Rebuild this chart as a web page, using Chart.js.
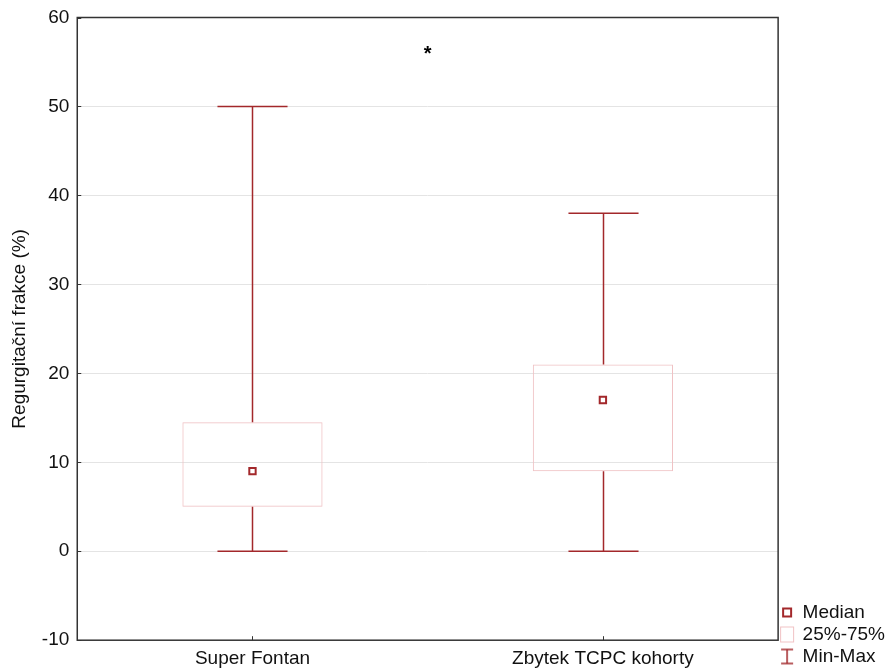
<!DOCTYPE html>
<html>
<head>
<meta charset="utf-8">
<script src="https://cdn.jsdelivr.net/npm/chart.js@4"></script>
<style>
  html, body { margin: 0; padding: 0; background: #fff; }
  #wrap { width: 886px; height: 672px; }
</style>
</head>
<body>
<div id="wrap"><canvas id="boxplot"></canvas></div>
<script>
// data
const groups = ["Super Fontan", "Zbytek TCPC kohorty"];
const minVals = [0, 0];
const q1Vals = [5, 9];
const medianVals = [9, 17];
const q3Vals = [14.5, 21];
const maxVals = [50, 38];
const starLabel = "*";
const starAt = [0.5, 56]; // between groups, y value

const darkRed = "#a3282b";
const pink = "#f0c2c4";
const fontFam = "'Liberation Sans', Arial, sans-serif";

// little canvases for the legend symbols
function symbol(kind) {
  const c = document.createElement("canvas");
  c.width = 16; c.height = 18;
  const g = c.getContext("2d");
  if (kind === "median") {
    g.fillStyle = "#fff";
    g.strokeStyle = darkRed;
    g.lineWidth = 2;
    g.fillRect(4, 5, 8, 8);
    g.strokeRect(4, 5, 8, 8);
  } else if (kind === "box") {
    g.strokeStyle = pink;
    g.lineWidth = 1;
    g.strokeRect(1.5, 1.5, 13, 15);
  } else {
    g.strokeStyle = darkRed;
    g.lineWidth = 1.5;
    g.beginPath();
    g.moveTo(2, 2); g.lineTo(14, 2);
    g.moveTo(8, 2); g.lineTo(8, 16);
    g.moveTo(2, 16); g.lineTo(14, 16);
    g.stroke();
  }
  return c;
}

// whiskers, frame, inner ticks and the star
const boxExtras = {
  id: "boxExtras",
  afterDatasetsDraw(chart) {
    const ctx = chart.ctx;
    const x = chart.scales.x, y = chart.scales.y;
    const bars = chart.getDatasetMeta(0).data;
    ctx.save();
    ctx.strokeStyle = darkRed;
    ctx.lineWidth = 1.5;
    groups.forEach((g, i) => {
      const cx = Math.round(x.getPixelForValue(i)) + 0.5;
      const half = bars[i].width / 4;
      const yMin = y.getPixelForValue(minVals[i]);
      const yMax = y.getPixelForValue(maxVals[i]);
      ctx.beginPath();
      ctx.moveTo(cx, yMax); ctx.lineTo(cx, y.getPixelForValue(q3Vals[i]));
      ctx.moveTo(cx, y.getPixelForValue(q1Vals[i])); ctx.lineTo(cx, yMin);
      ctx.moveTo(cx - half, yMax); ctx.lineTo(cx + half, yMax);
      ctx.moveTo(cx - half, yMin); ctx.lineTo(cx + half, yMin);
      ctx.stroke();
    });
    // frame
    const a = chart.chartArea;
    ctx.strokeStyle = "#333";
    ctx.lineWidth = 1.5;
    ctx.strokeRect(a.left, a.top, a.right - a.left, a.bottom - a.top);
    ctx.lineWidth = 1;
    ctx.beginPath();
    y.ticks.forEach(t => {
      const py = Math.round(y.getPixelForValue(t.value)) + 0.5;
      ctx.moveTo(a.left, py); ctx.lineTo(a.left + 4, py);
    });
    groups.forEach((g, i) => {
      const px = Math.round(x.getPixelForValue(i)) + 0.5;
      ctx.moveTo(px, a.bottom); ctx.lineTo(px, a.bottom - 4);
    });
    ctx.stroke();
    // star
    ctx.fillStyle = "#000";
    ctx.font = "bold 20px " + fontFam;
    ctx.textAlign = "center";
    ctx.textBaseline = "middle";
    ctx.fillText(starLabel, x.getPixelForValue(starAt[0]), y.getPixelForValue(starAt[1]) + 1);
    ctx.restore();
  }
};

new Chart("boxplot", {
  type: "bar",
  data: {
    labels: groups,
    datasets: [{
      label: "25%-75%",
      data: q1Vals.map((q, i) => [q, q3Vals[i]]),
      backgroundColor: "rgba(255,255,255,0)",
      borderColor: pink,
      borderWidth: 1,
      borderSkipped: false,
      barPercentage: 0.4,
      categoryPercentage: 1,
      order: 2
    }, {
      type: "line",
      label: "Median",
      data: medianVals,
      showLine: false,
      pointStyle: "rect",
      pointRadius: 4.5,
      pointBorderWidth: 2,
      pointBorderColor: darkRed,
      pointBackgroundColor: "#fff",
      order: 1
    }]
  },
  options: {
    responsive: true,
    maintainAspectRatio: false,
    animation: false,
    layout: { padding: { top: 6, right: -9, bottom: 3, left: 4 } },
    plugins: {
      tooltip: { enabled: false },
      legend: {
        position: "right",
        align: "end",
        labels: {
          usePointStyle: true,
          boxWidth: 12,
          boxHeight: 16,
          padding: 3,
          color: "#111",
          font: { family: fontFam, size: 19 },
          generateLabels: () => [
            { text: "Median", pointStyle: symbol("median"), lineWidth: 0, fontColor: "#111" },
            { text: "25%-75%", pointStyle: symbol("box"), lineWidth: 0, fontColor: "#111" },
            { text: "Min-Max", pointStyle: symbol("whisker"), lineWidth: 0, fontColor: "#111" }
          ]
        }
      }
    },
    scales: {
      x: {
        grid: { display: false },
        border: { display: false },
        ticks: { color: "#111", padding: -1, font: { family: fontFam, size: 19 } }
      },
      y: {
        min: -10,
        max: 60,
        ticks: { stepSize: 10, color: "#111", padding: 8, font: { family: fontFam, size: 19, lineHeight: 1 } },
        grid: { color: "#e4e4e4", drawTicks: false },
        border: { display: false },
        title: {
          display: true,
          text: "Regurgitační frakce (%)",
          color: "#111",
          padding: { top: 4, bottom: 3 },
          font: { family: fontFam, size: 19 }
        }
      }
    }
  },
  plugins: [boxExtras]
});
</script>
</body>
</html>
